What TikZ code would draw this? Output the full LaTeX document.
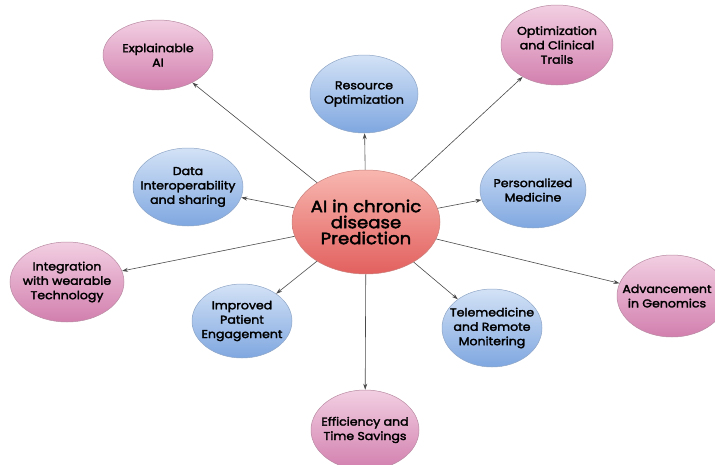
\documentclass[tikz,border=0pt]{standalone}
\usepackage{fontspec}
\setmainfont{Poppins}[FakeBold=2.4, FakeStretch=1.1]
\usetikzlibrary{shapes.geometric,arrows.meta}
\definecolor{pinktop}{HTML}{F2CFE2}
\definecolor{pinkbot}{HTML}{D27FAE}
\definecolor{pinkline}{HTML}{B88AA2}
\definecolor{bluetop}{HTML}{D3E2F6}
\definecolor{bluebot}{HTML}{7FA7E0}
\definecolor{blueline}{HTML}{8FA6C6}
\definecolor{hubtop}{HTML}{F8B7B0}
\definecolor{hubbot}{HTML}{E2605E}
\definecolor{hubline}{HTML}{C9807C}
\definecolor{arrowgray}{HTML}{4A4A4A}
\begin{document}
\begin{tikzpicture}[x=1pt,y=-1pt,
  % the ellipse keeps its own size; the caption sits on it as a centred label
  bubble/.style 2 args={ellipse, inner sep=0pt, line width=0.5pt,
    minimum width=#1, minimum height=#2},
  caption/.style={align=center, inner sep=0pt, text=black,
    font=\fontsize{11.4}{14.4}\selectfont},
  pinkbub/.style 2 args={bubble={#1}{#2}, draw=pinkline, top color=pinktop, bottom color=pinkbot},
  bluebub/.style 2 args={bubble={#1}{#2}, draw=blueline, top color=bluetop, bottom color=bluebot},
  hubbub/.style 2 args={bubble={#1}{#2}, draw=hubline, top color=hubtop, bottom color=hubbot},
  link/.style={-{Stealth[length=6pt,width=4pt]}, draw=arrowgray, line width=0.6pt}
]
\useasboundingbox (0,0) rectangle (715,464);

% central topic
\node[hubbub={148pt}{104pt},
  label={[caption, font=\fontsize{16.5}{16}\selectfont]center:{AI in chronic\\disease\\Prediction}}]
  (hub) at (366,222) {};

% outer ring
\node[pinkbub={110pt}{70pt}, label={[caption]center:{Explainable\\AI}}]
  (xai) at (158,55) {};
\node[pinkbub={112pt}{80pt}, label={[caption]center:{Optimization\\and Clinical\\Trails}}]
  (trials) at (557,45) {};
\node[bluebub={108pt}{78pt}, label={[caption]center:{Resource\\Optimization}}]
  (res) at (364,94) {};
\node[bluebub={110pt}{78pt}, label={[caption]center:{Data\\Interoperability\\and sharing}}]
  (data) at (188,187) {};
\node[bluebub={106pt}{76pt}, label={[caption]center:{Personalized\\Medicine}}]
  (pers) at (533,190) {};
\node[pinkbub={114pt}{80pt}, label={[caption]center:{Integration\\with wearable\\Technology}}]
  (wear) at (67,282) {};
\node[pinkbub={110pt}{82pt}, label={[caption, xshift=-5pt]center:{Advancement\\in Genomics}}]
  (gen) at (672,296) {};
\node[bluebub={100pt}{74pt}, label={[caption]center:{Improved\\Patient\\Engagement}}]
  (pat) at (242,321) {};
\node[bluebub={100pt}{78pt}, label={[caption]center:{Telemedicine\\and Remote\\Monitering}}]
  (tele) at (492,328) {};
\node[pinkbub={108pt}{80pt}, label={[caption]center:{Efficiency and\\Time Savings}}]
  (eff) at (365,430) {};

% connectors from the hub
\draw[link] (hub) -- (xai);
\draw[link] (hub) -- (trials);
\draw[link] (hub) -- (res);
\draw[link] (hub) -- (data);
\draw[link] (hub) -- (pers);
\draw[link] (hub) -- (wear);
\draw[link] (hub) -- (gen);
\draw[link] (hub) -- (pat);
\draw[link] (hub) -- (tele);
\draw[link] (hub) -- (eff);
\end{tikzpicture}
\end{document}
